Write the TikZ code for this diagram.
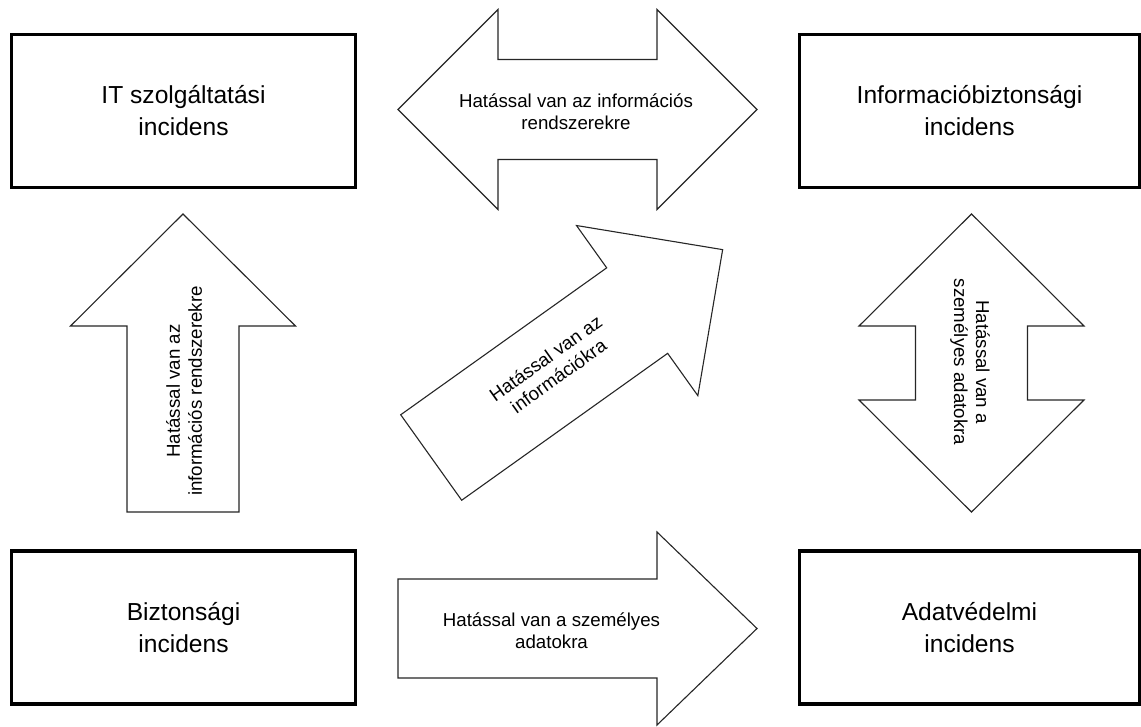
\documentclass[tikz,border=0pt]{standalone}
\usepackage{fontspec}
\setmainfont{Liberation Sans}
\usetikzlibrary{positioning}

\newcommand{\onearrow}[4]{%
  \draw[blockarrow] (0,-#3) -- ({#1-#2},-#3) -- ({#1-#2},-#4) -- (#1,0)
    -- ({#1-#2},#4) -- ({#1-#2},#3) -- (0,#3) -- cycle;}
\newcommand{\twoarrow}[4]{%
  \draw[blockarrow] (0,0) -- (#2,-#4) -- (#2,-#3) -- ({#1-#2},-#3) -- ({#1-#2},-#4) -- (#1,0)
    -- ({#1-#2},#4) -- ({#1-#2},#3) -- (#2,#3) -- (#2,#4) -- cycle;}

\begin{document}
\begin{tikzpicture}[x=1pt, y=-1pt,
  incbox/.style={draw, line width=3.5pt, minimum width=344pt, minimum height=153pt, align=center, font=\fontsize{24.6}{32}\selectfont},
  blockarrow/.style={draw=black!85, line width=1.1pt, fill=white},
  arrowtext/.style={align=center, inner sep=0pt, font=\fontsize{18.7}{22}\selectfont}]
\useasboundingbox (0,0) rectangle (1141,726);

\node[incbox] (itinc) at (183.5,111) {IT szolgáltatási\\incidens};
\node[incbox, minimum width=340pt] (ibinc) at (969.5,111) {Informacióbiztonsági\\incidens};
\node[incbox] (bizinc) at (183.5,627.5) {Biztonsági\\incidens};
\node[incbox, minimum width=340pt] (advinc) at (969.5,627.5) {Adatvédelmi\\incidens};

\begin{scope}[shift={(398,109.5)}]
  \twoarrow{359}{100}{50}{100}
\end{scope}
\begin{scope}[shift={(398,628.5)}]
  \onearrow{359}{100}{49.5}{96.5}
\end{scope}
\begin{scope}[shift={(183,512)}, rotate=90]
  \onearrow{298}{112}{56}{112.5}
\end{scope}
\begin{scope}[shift={(971.5,512)}, rotate=90]
  \twoarrow{298}{112}{56}{112.5}
\end{scope}
\begin{scope}[shift={(431.2,457.5)}, rotate=35.5]
  \onearrow{358}{105}{52.5}{104.5}
\end{scope}

\node[arrowtext] (lbltop) at (576,112) {Hatással van az információs\\rendszerekre};
\node[arrowtext] (lblbottom) at (551.5,631) {Hatással van a személyes\\adatokra};
\node[arrowtext, rotate=90] (lblleft) at (184,391) {Hatással van az\\információs rendszerekre};
\node[arrowtext, rotate=-90] (lblright) at (970,362) {Hatással van a\\személyes adatokra};
\node[arrowtext, rotate=35.5] (lbldiag) at (552,367) {Hatással van az\\információkra};
\end{tikzpicture}
\end{document}
